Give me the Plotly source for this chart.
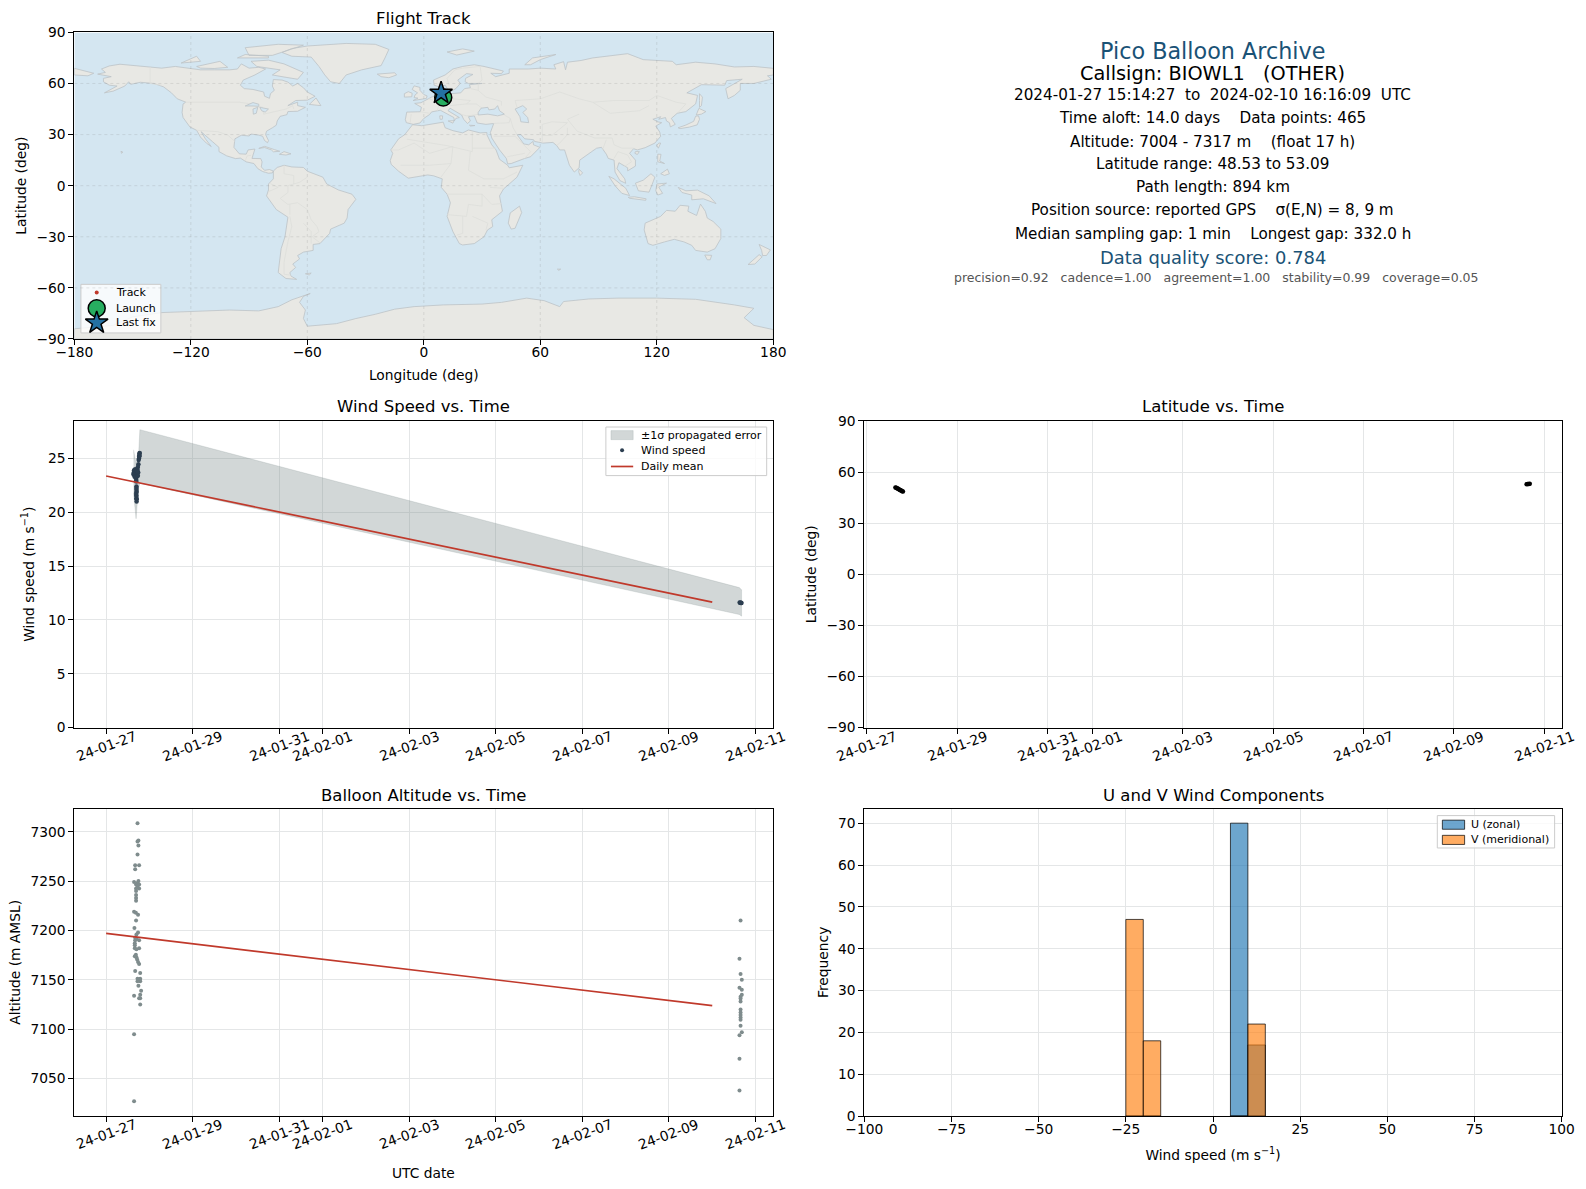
from datetime import datetime, timedelta

import plotly.graph_objects as go

FONT = "DejaVu Sans"
W, H = 1586, 1189

# ---- Map outlines (lon, lat) ----
north_america = [(-168,65.5),(-164,66.5),(-166,68.5),(-162,70.3),(-156.5,71.3),(-150,70.5),(-141,69.7),(-135,69),(-128,70),(-124,69.5),(-115,68),(-108,68),(-100,68),(-96,68.5),(-94,71.5),(-90,69),(-85,69.5),(-81.5,68.5),(-85,66),(-87,65),(-93,62),(-94.5,59),(-92.5,57),(-88,56.5),(-82.5,55),(-82,52.5),(-79.5,51.3),(-79,54),(-77,56),(-78,58.5),(-77.5,62.3),(-73,62),(-70,60.8),(-67.5,58.5),(-65,60),(-62,57.5),(-60,55),(-56,52.5),(-60,50.2),(-66,50),(-70,47),(-65,49),(-65,47),(-61,46),(-65,43.7),(-70,43.5),(-70.5,41.7),(-74,40.7),(-75.5,38),(-76,35.5),(-78,34),(-81,32),(-81.5,30),(-80,26.5),(-80.5,25.2),(-82,26.5),(-83,29),(-85,29.7),(-89,30.3),(-90,29.2),(-94,29.6),(-97.3,27.5),(-97.8,22.5),(-95,18.7),(-91.5,18.5),(-90.5,21),(-87,21.5),(-88,18),(-88.5,16),(-84,15.9),(-83.3,14),(-83.7,11),(-82,9),(-79.5,9.5),(-77.5,8.6),(-78,7.5),(-80,7.3),(-81.5,7.8),(-83,8.3),(-85.5,10),(-87.5,13),(-91.5,14),(-94.5,16.2),(-97,15.9),(-101.5,17.5),(-105.5,20),(-105.5,22.5),(-109,26),(-112.5,29.5),(-114.7,31.7),(-112.5,27.5),(-110,24),(-109.5,23),(-112,25),(-115,28.5),(-117,32.5),(-120.5,34.5),(-124,40),(-124.5,43),(-124,48),(-122.5,49),(-127,51),(-130,54.5),(-134,58),(-139,60),(-146,60.7),(-151,59.5),(-152,61),(-154,58.5),(-160,55.5),(-164.5,54.5),(-158,58.5),(-162,59),(-165,61),(-165,63),(-161,64),(-168,65.5)]
south_america = [(-77.5,8.6),(-75.5,10.7),(-72,12),(-68,11),(-62,10.7),(-60,8.5),(-52,5),(-50,1),(-44,-2.5),(-37,-5),(-35,-8),(-39,-14),(-39.5,-19),(-41,-22),(-48,-25.5),(-48.5,-28),(-53.5,-34),(-57,-34.5),(-57,-38),(-62,-39),(-65,-41),(-64,-43),(-67.5,-46),(-66,-48),(-69,-51),(-68.5,-53),(-65.5,-55),(-71,-54.5),(-75,-51),(-74,-43),(-73.5,-37),(-71.5,-30),(-70,-18.5),(-76,-14),(-81,-6),(-80,-2.5),(-80,1),(-77.5,4),(-77.5,8.6)]
greenland = [(-73,78.2),(-68,76),(-58,75.5),(-54,70),(-51,65),(-48,61),(-43.5,60),(-40,65),(-32,68),(-22,70.5),(-20,75),(-18,80),(-25,83),(-40,83.5),(-60,82),(-68,80.5),(-73,78.2)]
eurasia = [(-9,37),(-9.5,38.8),(-8.8,43.2),(-1.8,43.4),(-1.2,46),(-4.7,48.3),(-1.5,48.7),(1.5,50.5),(4,52),(8.5,53.8),(8.2,57),(10.7,57.7),(10,55),(11,54),(14,54),(19,54.5),(21,57),(24,57.5),(23.5,59.3),(30,60),(23,60),(21.3,61),(21.5,63),(25.3,65.3),(22,65.8),(17.5,62),(18.8,60),(16.5,57),(14.3,55.6),(12.7,56),(11,59),(8,58),(5.3,59),(5,62),(11,65),(15,68.5),(20,70),(26,71),(31,70),(41,67.3),(40,65.8),(34.5,66),(37,64),(44,66),(44,68.5),(54,68.5),(60,69),(68,68.5),(67,71),(72,72.8),(73,68),(74,72.5),(81,73.5),(87,75),(100,76.5),(105,77.5),(113,74),(128,73),(130,71),(140,72.5),(150,71.5),(160,69.7),(170,70),(180,68.9),(180,65),(177,64.5),(179,62.5),(170,60),(163,60),(163,56),(160,53),(156.7,51),(155.5,57),(164,62.5),(156,61.7),(155,59),(143,59.3),(135.5,54.5),(141,53),(140,48),(135,43.5),(130.5,42.5),(127.5,39.5),(129.5,36),(127,34.5),(126.5,37),(125,38),(124.5,40),(121,39),(122,40.5),(118,39),(120.5,37.5),(122.5,37),(119.5,35),(121.5,31.5),(122,29),(119,25),(114,22.3),(110,21),(108,21.7),(106,19),(109,15),(109,11.5),(105,8.7),(105,10.5),(100.5,13.5),(99.5,10),(103.5,4),(104,1.4),(101,3),(98.5,8),(98,15),(95,16),(94,18.5),(91.5,22.5),(89,22),(86.5,20),(80.3,15),(80,10.5),(77.5,8),(75,12),(73,20),(72.5,21),(70,21),(68.5,23.5),(66.5,25.4),(61.5,25),(57,26),(56.5,27),(52,27.5),(50,30),(48,30),(50,26.5),(51.5,24.5),(54,24),(56.3,26),(56.5,24),(59.8,22.5),(55,17),(52,16),(45,13),(43.2,12.8),(42.5,16),(39,21),(35,28),(34.3,31.2),(36,36.5),(32,36),(27.5,36.8),(26.3,39.5),(26,41),(23,40.5),(24,38),(22.5,36.5),(20.5,39),(19.5,41.5),(13.5,45.5),(12.5,44),(16,41.5),(18.3,40),(16.5,39.5),(15.7,38),(15.5,40),(12,42),(8.5,44.3),(4,43.3),(3,41.8),(0,39.5),(-2,36.8),(-5.5,36),(-9,37)]
chukotka = [(-180,68.9),(-175,67.5),(-170,66),(-173,64.5),(-180,65),(-180,68.9)]
africa = [(-5.8,35.8),(-1,35.2),(10,37.3),(11,34),(15,32.3),(20,31),(23,32.7),(29,31),(32.5,31.2),(32.5,29.9),(35,24),(37.2,21),(39,15.5),(43.2,12),(44,10.5),(51,12),(48,5),(41,-2),(39,-6),(40.5,-15),(35,-20),(35.5,-24),(32.8,-26),(31,-30),(26,-34),(20,-34.8),(18.3,-34),(15,-27),(12,-18),(13.7,-10),(12,-5),(9,-1),(9.5,4),(5,5.8),(2,6.3),(-4,5.2),(-8,4.4),(-13,8.5),(-16.8,12.5),(-17.3,14.7),(-16,19),(-17,21),(-13,27.5),(-9.8,30),(-6.8,34),(-5.8,35.8)]
australia = [(114,-22),(113.5,-26),(115.5,-34),(118,-35),(124,-33),(129,-31.5),(134,-33),(138,-35),(140,-38),(146,-39),(150,-37),(153,-31),(153,-25.5),(149,-21),(146,-19),(145,-15),(142.5,-10.8),(141.5,-14),(140.5,-17.5),(136,-15),(136.5,-12),(132,-11.5),(129.5,-15),(125,-14.5),(122,-18),(117,-20.5),(114,-22)]
antarctica = [(-180,-90),(-180,-84),(-160,-82),(-150,-77),(-135,-74.5),(-120,-74),(-100,-73),(-85,-73.5),(-75,-71),(-68,-67),(-58.5,-63.3),(-62,-65),(-64,-68.5),(-61,-73),(-62,-78),(-60,-82.5),(-45,-81),(-35,-78),(-25,-75.5),(-15,-72.5),(-5,-71),(10,-70),(30,-69.5),(40,-68.5),(53,-66),(62,-67.5),(70,-71),(72,-68),(85,-66.5),(100,-66),(120,-66),(140,-66.7),(160,-70),(170,-72),(165,-77.5),(170,-82),(180,-84.5),(180,-90),(-180,-90)]
great_britain = [(-5.5,50),(1.3,51.2),(1.7,52.7),(0,53.5),(-2,56),(-2,57.7),(-5,58.6),(-6,56.5),(-3.2,54.5),(-4.5,53.3),(-5,51.7),(-3,51.4),(-5.5,50)]
ireland = [(-10,52),(-6.2,52.2),(-6,54.3),(-8,55.2),(-10,54),(-10,52)]
iceland = [(-24,65.5),(-22,64),(-18,63.4),(-14,65),(-15,66.3),(-20,66),(-24,65.5)]
cuba = [(-85,21.9),(-82,23.1),(-77,21.2),(-74.2,20.2),(-77.5,19.9),(-78.5,21),(-82,22.4),(-85,21.9)]
hispaniola = [(-74.4,18.4),(-72,20),(-68.4,18.7),(-71,18),(-74.4,18.4)]
madagascar = [(49.3,-12),(50.4,-15.8),(47,-25),(45,-25.5),(43.5,-22),(44.5,-16),(49.3,-12)]
sri_lanka = [(80,9.7),(81.8,7.5),(80.5,6),(79.8,8),(80,9.7)]
honshu = [(131,34),(135,35.6),(139,37.8),(140,40.8),(141.5,41),(142,39),(140.8,35.7),(136.8,34.4),(132,33.5),(131,34)]
hokkaido = [(140.3,41.5),(141.7,45.4),(145.3,43.5),(143,42),(140.3,41.5)]
sakhalin = [(142,54),(143.5,52),(143,47),(142,46),(142,50),(142,54)]
taiwan = [(121,25),(122,25),(120.8,22),(120,23.5),(121,25)]
hainan = [(109,20),(111,20),(110,18.3),(108.7,19),(109,20)]
sumatra = [(95.3,5.5),(98,4),(104,-1.5),(106,-5.8),(102,-4.5),(98.5,0),(95.3,5.5)]
java = [(105.3,-6.8),(108.5,-6.5),(114.5,-7.7),(114.3,-8.6),(106,-7.4),(105.3,-6.8)]
borneo = [(109,1.5),(113,3.2),(117,7),(119,5),(117.7,1),(116,-3.8),(110.5,-3),(109,1.5)]
sulawesi = [(120,1),(125,1.5),(121,-0.8),(123,-4.5),(120.5,-5.5),(119.5,-3),(120,1)]
new_guinea = [(131,-1),(135,-3),(141,-2.6),(147,-6),(150.5,-10.5),(144,-7.7),(138,-8.3),(138,-5.5),(133,-4),(131,-1)]
luzon = [(120.5,18.5),(122.2,18.4),(121.5,14.5),(124,13),(120.5,14),(120.5,18.5)]
mindanao = [(122,7),(125.5,9.7),(126.5,7),(124,6),(122,7)]
nz_north = [(172.7,-34.5),(178.5,-37.7),(176.5,-41),(174.5,-41),(174,-38),(172.7,-34.5)]
nz_south = [(172.7,-40.5),(174.3,-41.7),(170.5,-46),(167,-46.3),(172.7,-40.5)]
tasmania = [(144.7,-40.7),(148.3,-40.9),(147.5,-43.5),(146,-43.5),(144.7,-40.7)]
baffin = [(-80,73.7),(-72,71.5),(-62,66.5),(-65,62.5),(-72,63.8),(-78,65),(-74,68),(-86,70),(-89,73),(-80,73.7)]
victoria = [(-117,70),(-105,73),(-101,69.5),(-108,68.8),(-115,69),(-117,70)]
ellesmere = [(-90,76.5),(-78,76.5),(-62,82.5),(-75,83),(-92,81),(-90,76.5)]
banks = [(-125,72),(-117,76),(-115,73),(-125,72)]
devon = [(-96,75),(-80,75),(-80,76),(-92,77),(-96,75)]
newfoundland = [(-59,47.7),(-55.5,51.5),(-53,47),(-59,47.7)]
svalbard = [(12,78.5),(20,80.3),(26,79),(17,76.7),(12,78.5)]
novaya_zemlya = [(52,71),(56,75),(68,77),(60,74),(55,71),(52,71)]
sicily = [(12.5,38),(15.6,38.2),(15,36.7),(12.5,38)]
sardinia = [(8.2,41),(9.7,41),(9.5,39),(8.4,39),(8.2,41)]
crete = [(23.5,35.5),(26.3,35.3),(24,35),(23.5,35.5)]
falklands = [(-61,-51.7),(-58,-51.3),(-59,-52.4),(-61,-51.7)]
hawaii = [(-156,20.2),(-155,19.7),(-155.7,19),(-156,20.2)]
kerguelen = [(68.8,-49),(70.5,-49),(69.5,-49.7),(68.8,-49)]
land_parts = [north_america, south_america, greenland, eurasia, chukotka, africa, australia, antarctica,
              great_britain, ireland, iceland, cuba, hispaniola, madagascar, sri_lanka, honshu, hokkaido,
              sakhalin, taiwan, hainan, sumatra, java, borneo, sulawesi, new_guinea, luzon, mindanao,
              nz_north, nz_south, tasmania, baffin, victoria, ellesmere, banks, devon, newfoundland,
              svalbard, novaya_zemlya, sicily, sardinia, crete, falklands, hawaii, kerguelen]

black_sea = [(28,41.5),(28,43),(29.5,45.5),(33,46),(33.5,44.5),(36.5,45),(38,47),(39,44),(41.5,42),(38,41),(33,42),(28,41.5)]
caspian = [(47,45),(51,47),(53,45),(51,43),(53.5,40),(54,37),(50,37.5),(49.5,40.5),(47,45)]
superior = [(-92,46.8),(-88,48.8),(-85,47.8),(-85,46.6),(-88,46.8),(-92,46.8)]
michigan = [(-87.8,42),(-88,45),(-85.5,46),(-86.3,42.5),(-87.8,42)]
huron = [(-84.5,46),(-80,45),(-81.7,43.2),(-83.5,44),(-84.5,46)]
water_parts = [black_sea, caspian, superior, michigan, huron]

border_parts = [
    [(-123,49),(-95,49),(-89,48),(-83,46),(-82.5,42),(-79,43),(-76,44),(-71,45),(-67.5,47),(-67,45)],
    [(-141,69.7),(-141,60),(-135,59)],
    [(-117,32.5),(-108,31.5),(-106,31.7),(-101,29.7),(-97.3,26)],
    [(-92,14.5),(-91,17.5),(-89,17.8)],
    [(-72,12),(-72,7),(-67,6),(-67,1)],
    [(-60,5),(-64,2),(-70,0),(-70,-4),(-74,-7.5),(-70,-11),(-65,-10),(-60,-14),(-58,-20),(-55,-24),(-54,-27),(-57.5,-30),(-53.5,-33.5)],
    [(-69,-18),(-68,-24),(-70,-33),(-72,-45),(-72,-52),(-68.5,-52.5)],
    [(-69,-11),(-69,-17)],
    [(-80,-3.5),(-75,-1),(-79,1.2)],
    [(-62,-22),(-58,-27),(-58,-34)],
    [(-8.7,27.3),(12,23.5),(25,20),(25,31.5)],
    [(-17,21),(-13,21),(-5,25),(3,19),(15,23)],
    [(25,22),(37,22)],
    [(15,23),(14,13),(8.5,4.5)],
    [(14,13),(3,12),(-12,12)],
    [(24,20),(23,9),(31,4),(41,4),(48,8)],
    [(12,-5),(30,-5),(30,-12),(23,-11),(22,-18),(12,-17)],
    [(20,-18),(20,-28),(17,-29)],
    [(25,-18),(33,-22),(32,-26)],
    [(30,-5),(35,-11),(40,-10.5)],
    [(34,-1),(41,-1.5)],
    [(28,60),(28,56),(32,52),(40,49.5),(40,47)],
    [(48,46),(47,50),(60,51),(70,55),(80,51),(87,49),(98,50),(107,50),(116,50),(120,53),(130,49),(135,48),(131,43)],
    [(80,42),(74,39),(79,32),(88,28),(97,28),(98,24),(102,22),(108,22)],
    [(87,49),(96,42.5),(111,44),(116,47)],
    [(74,34),(74,30),(70,25),(68.5,23.7)],
    [(44.5,39.5),(46,34),(48,30)],
    [(61,36),(61,25)],
    [(61,36),(66,37.5),(74,37),(70,33),(66,29.5),(61,29.5)],
    [(36,29),(47,29),(55,20),(52,16)],
    [(43,17),(52,19)],
    [(92,21),(94,27)],
    [(98,16),(100,20),(105,18),(107,14),(103,11)],
    [(-1.8,43.4),(3,42.5)],
    [(2.5,51),(8,49),(7,44)],
    [(6,51),(7,54)],
    [(14,54),(15,51),(24,50),(22,48),(27,48),(30,45.5)],
    [(13.5,47),(22,48)],
    [(19,42),(22,41),(26,41.5),(28,42)],
    [(24,57),(28,56)],
    [(13,59),(12,63),(16,68),(20,69),(29,70)],
    [(29,70),(30,62),(28,60)],
    [(36,36.5),(44,37),(44.5,39.5),(41.5,41.5)],
    [(-7,37),(-6.5,42)],
]

# ---- Balloon data ----
track_lon = [10.3, 10.1, 9.9, 9.8, 9.5, 9.2, 8.9]
track_lat = [51.0, 50.4, 49.7, 49.0, 48.53, 52.9, 53.09]
launch_lon, launch_lat = [10.0], [51.8]
last_lon, last_lat = [8.9], [54.4]

# decimal hours since midnight of each day
wind_hours_a = [15.2, 15.4, 15.6, 15.9, 16.2, 16.5, 16.7, 16.7, 16.8, 16.8, 16.8, 16.9, 17.1, 17.3, 17.6, 17.9, 18.0, 18.2, 18.3, 18.4, 18.5, 18.6,
                16.3, 16.5, 16.6, 16.7, 16.7, 16.8, 16.8, 16.9, 16.9, 17.0,
                15.3, 15.5, 15.8, 16.1, 16.4, 16.9, 17.3, 17.6, 17.8, 17.4, 18.4]
wind_speed_a = [23.5, 23.7, 23.8, 23.4, 23.6, 23.2, 23.0, 22.85, 22.4, 22.25, 22.1, 21.9, 23.9, 24.0, 24.2, 24.45, 24.85, 25.0, 25.15, 25.3, 25.45, 25.5,
                23.8, 23.6, 23.5, 21.8, 21.6, 21.5, 21.3, 21.2, 21.0, 23.3,
                23.6, 23.9, 23.3, 24.0, 23.3, 23.9, 23.6, 23.4, 23.7, 23.8, 25.2]
wind_hours_b = [15.2, 15.5, 15.8, 16.0, 16.2]
wind_speed_b = [11.62, 11.6, 11.58, 11.6, 11.56]

band_hours = [15.2, 16.6, 17.9, 18.7]
band_upper_a = [25.8, 24.5, 25.0, 27.67]
band_lower_a = [21.8, 19.4, 22.2, 22.7]
band_hours_b = [15.0, 16.27]
band_upper_b = [13.0, 12.8]
band_lower_b = [10.5, 10.35]

daily_dates = ["2024-01-27", "2024-02-10"]
daily_wind = [23.37, 11.65]
daily_alt = [7197, 7124]

alt_hours_a = [17.4, 17.9, 17.4, 17.9, 17.4, 18.3, 16.1, 16.1, 15.5, 17.9, 17.4, 16.6, 18.3, 17.4, 18.3, 16.6, 16.6, 16.6, 16.6, 16.6,
               15.5, 16.5, 17.7, 16.6, 15.7, 17.7, 16.8, 16.1, 16.8, 18.3, 16.1, 15.9, 15.9, 15.9, 18.3, 16.8, 16.5, 15.9, 16.8, 17.2, 17.7, 18.3,
               16.1, 18.9, 17.4, 18.9, 18.9, 17.4, 17.9, 19.4, 15.5, 18.9, 18.9, 18.3, 18.9, 15.5, 15.5]
alt_values_a = [7308.5, 7291, 7290, 7286, 7277, 7266, 7266, 7262, 7249, 7250, 7248, 7246.5, 7246.5, 7245, 7242.5, 7242.5, 7240, 7236, 7233, 7230,
                7219, 7218, 7216, 7210, 7202.6, 7198, 7196, 7193, 7192, 7190, 7190, 7187, 7185, 7182, 7182, 7181, 7175.5, 7174, 7173, 7170.5, 7168, 7166,
                7159, 7157, 7151, 7151, 7148.5, 7148.5, 7144, 7139, 7134, 7135, 7131.5, 7131.5, 7125, 7095, 7027]
alt_hours_b = [15.7, 15.1, 15.7, 16.4, 15.1, 16.4, 16.4, 15.7, 15.7, 15.7, 15.7, 15.7, 15.7, 15.7, 15.7, 15.7, 16.4, 15.1, 15.1, 15.1]
alt_values_b = [7210, 7171.5, 7156, 7150, 7142, 7140, 7135, 7133, 7131, 7128, 7120, 7117, 7114.5, 7112, 7109.5, 7103.5, 7097, 7094, 7070, 7038]

lat_hours_a = [15.2, 15.6, 16.0, 16.4, 16.8, 17.2, 17.6, 18.0, 18.4, 18.8, 19.2]
lat_values_a = [51.0, 50.8, 50.5, 50.3, 50.0, 49.8, 49.5, 49.3, 49.0, 48.8, 48.53]
lat_hours_b = [14.6, 15.0, 15.4, 15.8, 16.27]
lat_values_b = [52.9, 52.95, 53.0, 53.05, 53.09]

hist_left = [-25, -20, 5, 10]
hist_u = [0, 0, 70, 17]
hist_v = [47, 18, 0, 22]
hist_width = 5

date_ticks = ["2024-01-27", "2024-01-29", "2024-01-31", "2024-02-01", "2024-02-03",
              "2024-02-05", "2024-02-07", "2024-02-09", "2024-02-11"]
date_labels = ["24-01-27", "24-01-29", "24-01-31", "24-02-01", "24-02-03",
               "24-02-05", "24-02-07", "24-02-09", "24-02-11"]
lon_ticks = [-180, -120, -60, 0, 60, 120, 180]
lat_ticks = [-90, -60, -30, 0, 30, 60, 90]

info_lines = [
    ("Pico Balloon Archive", 22.3, "#1a5276", 1199, 50),
    ("Callsign: BIOWL1   (OTHER)", 19.3, "black", 1199, 73),
    ("2024-01-27 15:14:27  to  2024-02-10 16:16:09  UTC", 15.2, "black", 1199, 94),
    ("Time aloft: 14.0 days    Data points: 465", 15.2, "black", 1199, 117),
    ("Altitude: 7004 - 7317 m    (float 17 h)", 15.2, "black", 1199, 140),
    ("Latitude range: 48.53 to 53.09", 15.2, "black", 1199, 162),
    ("Path length: 894 km", 15.2, "black", 1199, 185),
    ("Position source: reported GPS    σ(E,N) = 8, 9 m", 15.2, "black", 1199, 208),
    ("Median sampling gap: 1 min    Longest gap: 332.0 h", 15.2, "black", 1199, 231),
    ("Data quality score: 0.784", 17.9, "#1a5276", 1199, 254),
    ("precision=0.92   cadence=1.00   agreement=1.00   stability=0.99   coverage=0.05", 12.5, "#555555", 1202.5, 274),
]

OCEAN = "#d4e6f1"
LAND = "#e8e8e4"
GRID = "#e4e6e7"
RED = "#c0392b"
NAVY = "#2c3e50"
GREY = "#7f8c8d"
BAND = "rgba(127,140,141,0.35)"
U_FILL = "rgba(31,119,180,0.65)"
V_FILL = "rgba(255,127,14,0.65)"
BAR_EDGE = "rgba(0,0,0,0.7)"
LEGEND_SIZE = 11
LAUNCH_MARKER = dict(size=17, color="#27ae60", line=dict(color="black", width=1.5))
LAST_MARKER = dict(size=17, symbol="star", color="#2471a3", line=dict(color="black", width=1.5))


# picture positions to page fractions
def px(x):
    return x / 1568


def py(y):
    return 1 - y / 1175


left_col = [px(73.5), px(764.5)]
right_col = [px(854.5), px(1544)]
row1 = [py(335), py(32)]
row2 = [py(719), py(416)]
row3 = [py(1103), py(799)]

date_range_full = ["2024-01-26 06:23", "2024-02-11 09:50"]
date_range_lat = ["2024-01-26 22:40", "2024-02-11 09:15"]


def at(day, hours):
    return [datetime.fromisoformat(day) + timedelta(hours=h) for h in hours]


def join_parts(parts):
    xs, ys = [], []
    for part in parts:
        xs += [p[0] for p in part] + [None]
        ys += [p[1] for p in part] + [None]
    return xs, ys


fig = go.Figure()

# ---- Flight track map ----
land_x, land_y = join_parts(land_parts)
water_x, water_y = join_parts(water_parts)
border_x, border_y = join_parts(border_parts)
fig.add_trace(go.Scatter(x=land_x, y=land_y, mode="lines", fill="toself", fillcolor=LAND,
                         line=dict(color="#bcc3c7", width=0.8), hoverinfo="skip"))
fig.add_trace(go.Scatter(x=border_x, y=border_y, mode="lines",
                         line=dict(color="#dddedb", width=0.8), hoverinfo="skip"))
fig.add_trace(go.Scatter(x=water_x, y=water_y, mode="lines", fill="toself", fillcolor=OCEAN,
                         line=dict(color="#bcc3c7", width=0.8), hoverinfo="skip"))
fig.add_trace(go.Scatter(x=track_lon, y=track_lat, mode="markers", name="Track",
                         marker=dict(size=4, color=RED)))
fig.add_trace(go.Scatter(x=launch_lon, y=launch_lat, mode="markers", name="Launch", marker=LAUNCH_MARKER))
fig.add_trace(go.Scatter(x=last_lon, y=last_lat, mode="markers", name="Last fix", marker=LAST_MARKER))

# ---- Wind speed ----
band_x = at("2024-01-27", band_hours) + at("2024-02-10", band_hours_b)
band_x = band_x + band_x[::-1]
band_y = band_upper_a + band_upper_b + (band_lower_a + band_lower_b)[::-1]
fig.add_trace(go.Scatter(x=band_x, y=band_y, mode="lines", fill="toself", fillcolor=BAND,
                         line=dict(color="rgba(127,140,141,0.2)", width=1), name="±1σ propagated error",
                         xaxis="x2", yaxis="y2"))
fig.add_trace(go.Scatter(x=at("2024-01-27", wind_hours_a) + at("2024-02-10", wind_hours_b),
                         y=wind_speed_a + wind_speed_b, mode="markers", name="Wind speed",
                         marker=dict(size=4.5, color=NAVY), xaxis="x2", yaxis="y2"))
fig.add_trace(go.Scatter(x=daily_dates, y=daily_wind, mode="lines", name="Daily mean",
                         line=dict(color=RED, width=1.7), xaxis="x2", yaxis="y2"))

# ---- Latitude ----
fig.add_trace(go.Scatter(x=at("2024-01-27", lat_hours_a) + at("2024-02-10", lat_hours_b),
                         y=lat_values_a + lat_values_b, mode="markers",
                         marker=dict(size=4.5, color="black"), xaxis="x3", yaxis="y3"))

# ---- Altitude ----
fig.add_trace(go.Scatter(x=at("2024-01-27", alt_hours_a) + at("2024-02-10", alt_hours_b),
                         y=alt_values_a + alt_values_b, mode="markers",
                         marker=dict(size=4, color=GREY), xaxis="x4", yaxis="y4"))
fig.add_trace(go.Scatter(x=daily_dates, y=daily_alt, mode="lines",
                         line=dict(color=RED, width=1.7), xaxis="x4", yaxis="y4"))

# ---- U / V histogram ----
hist_x = [v + hist_width / 2 for v in hist_left]
fig.add_trace(go.Bar(x=hist_x, y=hist_u, width=hist_width, name="U (zonal)",
                     marker=dict(color=U_FILL, line=dict(color=BAR_EDGE, width=1)),
                     xaxis="x5", yaxis="y5"))
fig.add_trace(go.Bar(x=hist_x, y=hist_v, width=hist_width, name="V (meridional)",
                     marker=dict(color=V_FILL, line=dict(color=BAR_EDGE, width=1)),
                     xaxis="x5", yaxis="y5"))

axis_style = dict(showline=True, mirror=True, linecolor="black", linewidth=1, ticks="outside", ticklen=5,
                  tickcolor="black", tickfont=dict(family=FONT, size=13.8, color="black"),
                  gridcolor=GRID, gridwidth=1, zeroline=False, automargin=False)
title_font = dict(family=FONT, size=13.8, color="black")


def date_axis(domain, yname, rng):
    return dict(axis_style, domain=domain, anchor=yname, type="date", range=rng,
                tickmode="array", tickvals=date_ticks, showticklabels=False)


annotations = []
for text, size, color, x, y in info_lines:
    annotations.append(dict(text=text, x=px(x), y=py(y), xref="paper", yref="paper",
                            showarrow=False, xanchor="center", yanchor="middle",
                            font=dict(family=FONT, size=size, color=color)))

panel_titles = [("Flight Track", left_col, 18), ("Wind Speed vs. Time", left_col, 402),
                ("Latitude vs. Time", right_col, 402), ("Balloon Altitude vs. Time", left_col, 786),
                ("U and V Wind Components", right_col, 786)]
for text, col, y in panel_titles:
    annotations.append(dict(text=text, x=sum(col) / 2, y=py(y), xref="paper", yref="paper",
                            showarrow=False, xanchor="center", yanchor="middle",
                            font=dict(family=FONT, size=16.5, color="black")))

# rotated date labels are centred on their tick, which tickangle does not do
for xref, bottom in [("x2", row2[0]), ("x3", row2[0]), ("x4", row3[0])]:
    for tick, label in zip(date_ticks, date_labels):
        annotations.append(dict(text=label, x=tick, y=bottom, xref=xref, yref="paper", yshift=-18,
                                showarrow=False, textangle=-20, xanchor="center", yanchor="middle",
                                font=dict(family=FONT, size=13.8, color="black")))
annotations.append(dict(text="UTC date", x=sum(left_col) / 2, y=py(1159), xref="paper", yref="paper",
                        showarrow=False, xanchor="center", yanchor="middle", font=title_font))


# ---- Legends ----
# plotly's own legend rows are too tall for these boxes, so they are drawn on a full-page overlay axis
def legend_box(x0, y0, x1, y1):
    fig.add_trace(go.Scatter(x=[px(x0), px(x1), px(x1), px(x0), px(x0)], y=[py(y0), py(y0), py(y1), py(y1), py(y0)],
                             mode="lines", fill="toself", fillcolor="rgba(255,255,255,0.8)",
                             line=dict(color="#cccccc", width=1), xaxis="x6", yaxis="y6", hoverinfo="skip"))


def legend_marker(x, y, marker):
    fig.add_trace(go.Scatter(x=[px(x)], y=[py(y)], mode="markers", marker=marker,
                             xaxis="x6", yaxis="y6", hoverinfo="skip"))


def legend_swatch(x0, x1, y, color, edge):
    fig.add_trace(go.Scatter(x=[px(x0), px(x1), px(x1), px(x0), px(x0)],
                             y=[py(y - 4.5), py(y - 4.5), py(y + 4.5), py(y + 4.5), py(y - 4.5)],
                             mode="lines", fill="toself", fillcolor=color, line=dict(color=edge, width=1),
                             xaxis="x6", yaxis="y6", hoverinfo="skip"))


def legend_text(text, x, y):
    annotations.append(dict(text=text, x=px(x), y=py(y), xref="paper", yref="paper", showarrow=False,
                            xanchor="left", yanchor="middle",
                            font=dict(family=FONT, size=LEGEND_SIZE, color="black")))


legend_box(80, 281, 159, 329)
legend_marker(95.6, 289, dict(size=4, color=RED))
legend_marker(95.6, 304.6, LAUNCH_MARKER)
legend_marker(95.6, 319, LAST_MARKER)
legend_text("Track", 112.7, 289)
legend_text("Launch", 112.7, 305)
legend_text("Last fix", 112.7, 319)

legend_box(599, 422, 758, 470)
legend_swatch(604, 626, 430, BAND, "rgba(127,140,141,0.2)")
legend_marker(615, 445, dict(size=4, color=NAVY))
fig.add_trace(go.Scatter(x=[px(604), px(626)], y=[py(461), py(461)], mode="lines",
                         line=dict(color=RED, width=1.7), xaxis="x6", yaxis="y6", hoverinfo="skip"))
legend_text("±1σ propagated error", 632, 430)
legend_text("Wind speed", 632, 445)
legend_text("Daily mean", 632, 461)

legend_box(1421, 806, 1537, 838)
legend_swatch(1426, 1448, 815, U_FILL, BAR_EDGE)
legend_swatch(1426, 1448, 830, V_FILL, BAR_EDGE)
legend_text("U (zonal)", 1452, 815)
legend_text("V (meridional)", 1452, 830)

grid_shapes = []
for lon in lon_ticks[1:-1]:
    grid_shapes.append(dict(type="line", xref="x", yref="y", x0=lon, x1=lon, y0=-90, y1=90, layer="above",
                            line=dict(color="rgba(120,120,120,0.18)", width=1, dash="dot")))
for lat in lat_ticks[1:-1]:
    grid_shapes.append(dict(type="line", xref="x", yref="y", x0=-180, x1=180, y0=lat, y1=lat, layer="above",
                            line=dict(color="rgba(120,120,120,0.18)", width=1, dash="dot")))
# ocean background only behind the map
grid_shapes.append(dict(type="rect", xref="x", yref="y", x0=-180, x1=180, y0=-90, y1=90, layer="below",
                        fillcolor=OCEAN, line=dict(width=0)))

fig.update_layout(
    width=W, height=H, margin=dict(l=0, r=0, t=0, b=0),
    # transparent, or the full-page overlay axis would paint over the panels
    paper_bgcolor="white", plot_bgcolor="rgba(0,0,0,0)", barmode="overlay", showlegend=False,
    font=dict(family=FONT, color="black"),
    annotations=annotations, shapes=grid_shapes,
    xaxis=dict(axis_style, domain=left_col, anchor="y", range=[-180, 180], tickvals=lon_ticks, showgrid=False,
               ticklabelstandoff=-5, title=dict(text="Longitude (deg)", font=title_font, standoff=11)),
    yaxis=dict(axis_style, domain=row1, anchor="x", range=[-90, 90], tickvals=lat_ticks, showgrid=False,
               title=dict(text="Latitude (deg)", font=title_font, standoff=6)),
    xaxis2=date_axis(left_col, "y2", date_range_full),
    yaxis2=dict(axis_style, domain=row2, anchor="x2", range=[0, 28.48], tickvals=[0, 5, 10, 15, 20, 25],
                title=dict(text="Wind speed (m s<sup>−1</sup>)", font=title_font, standoff=10)),
    xaxis3=date_axis(right_col, "y3", date_range_lat),
    yaxis3=dict(axis_style, domain=row2, anchor="x3", range=[-90, 90], tickvals=lat_ticks,
                title=dict(text="Latitude (deg)", font=title_font, standoff=6)),
    xaxis4=date_axis(left_col, "y4", date_range_full),
    yaxis4=dict(axis_style, domain=row3, anchor="x4", range=[7012, 7323.5],
                tickvals=[7050, 7100, 7150, 7200, 7250, 7300],
                title=dict(text="Altitude (m AMSL)", font=title_font, standoff=6)),
    xaxis5=dict(axis_style, domain=right_col, anchor="y5", range=[-100, 100],
                tickvals=[-100, -75, -50, -25, 0, 25, 50, 75, 100], ticklabelstandoff=-5,
                title=dict(text="Wind speed (m s<sup>−1</sup>)", font=title_font, standoff=14)),
    yaxis5=dict(axis_style, domain=row3, anchor="x5", range=[0, 73.5], tickvals=[0, 10, 20, 30, 40, 50, 60, 70],
                title=dict(text="Frequency", font=title_font, standoff=6)),
    xaxis6=dict(domain=[0, 1], range=[0, 1], anchor="y6", visible=False, fixedrange=True),
    yaxis6=dict(domain=[0, 1], range=[0, 1], anchor="x6", visible=False, fixedrange=True),
)

fig.write_html("out.html", post_script="document.body.style.margin='0'",
               config={"displayModeBar": False})
